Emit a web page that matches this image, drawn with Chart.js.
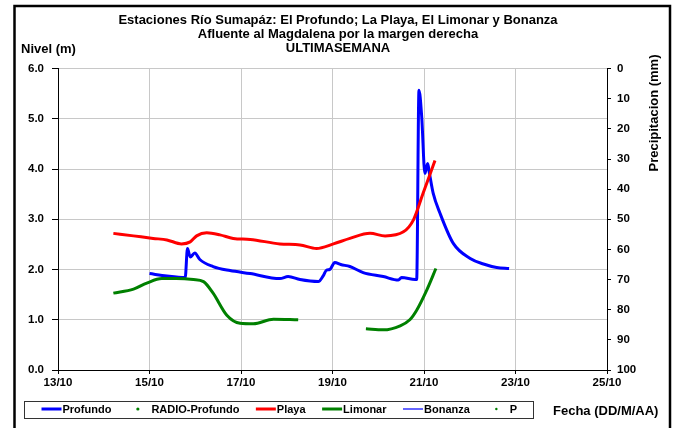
<!DOCTYPE html>
<html>
<head>
<meta charset="utf-8">
<script src="https://cdn.jsdelivr.net/npm/chart.js@4/dist/chart.umd.min.js"></script>
<style>
  html, body { margin: 0; padding: 0; background: #fff; }
  #wrap { width: 676px; height: 428px; }
</style>
</head>
<body>
<div id="wrap"><canvas id="grafico_nivel" width="676" height="428"></canvas></div>
<script>
// dias (dia de octubre, con fraccion) y niveles
const profundoDia = [15.00, 15.38, 15.78, 15.83, 15.89, 15.99, 16.10, 16.39, 16.76, 17.20, 17.85, 18.03, 18.29, 18.69, 18.80, 18.87, 18.94, 19.05, 19.18, 19.38, 19.67, 20.11, 20.44, 20.51, 20.81, 20.84, 20.89, 20.95, 21.02, 21.08, 21.12, 21.20, 21.35, 21.64, 22.01, 22.30, 22.59, 22.86];
const profundoNivel = [1.92, 1.87, 1.84, 2.42, 2.25, 2.33, 2.20, 2.06, 1.98, 1.92, 1.82, 1.86, 1.80, 1.76, 1.88, 1.99, 2.00, 2.14, 2.10, 2.06, 1.94, 1.86, 1.79, 1.84, 1.80, 1.80, 5.57, 5.04, 3.91, 4.11, 3.91, 3.52, 3.12, 2.52, 2.22, 2.11, 2.04, 2.02];

const playaDia = [14.21, 14.65, 15.08, 15.38, 15.70, 15.89, 16.03, 16.25, 16.54, 16.83, 17.20, 17.85, 18.29, 18.65, 19.02, 19.38, 19.82, 20.15, 20.55, 20.77, 20.98, 21.24];
const playaNivel = [2.72, 2.67, 2.62, 2.59, 2.51, 2.55, 2.67, 2.73, 2.69, 2.62, 2.60, 2.51, 2.49, 2.42, 2.51, 2.62, 2.72, 2.67, 2.75, 2.99, 3.52, 4.17];

const limonarDia = [14.21, 14.65, 14.94, 15.27, 15.59, 15.96, 16.18, 16.39, 16.69, 16.98, 17.27, 17.71, 18.25, 19.00, 19.73, 20.11, 20.48, 20.69, 20.84, 21.06, 21.26];
const limonarNivel = [1.53, 1.61, 1.73, 1.82, 1.82, 1.80, 1.76, 1.53, 1.09, 0.93, 0.92, 1.01, 1.00, null, 0.82, 0.80, 0.88, 1.00, 1.19, 1.59, 2.02];

// series sin datos en la semana
const radioProfundoNivel = [];
const bonanzaNivel = [];
const precipitacion = [];

const nivelTicks = [0, 1, 2, 3, 4, 5, 6];
const fechaTicks = [13, 15, 17, 19, 21, 23, 25];

const fuente = '"Liberation Sans", Arial, sans-serif';

function puntos(dias, valores) {
  return dias.map((d, i) => ({ x: d, y: valores[i] }));
}

const marcoPlugin = {
  id: 'marco',
  beforeDraw(chart) {
    const ctx = chart.ctx;
    ctx.save();
    ctx.fillStyle = '#fff';
    ctx.fillRect(0, 0, chart.width, chart.height);
    ctx.restore();
  },
  afterDraw(chart) {
    const ctx = chart.ctx;
    ctx.save();
    ctx.strokeStyle = '#000';
    ctx.lineWidth = 2.5;
    ctx.strokeRect(14.5, 6, 655.5, 440);

    ctx.fillStyle = '#000';
    ctx.textBaseline = 'middle';
    ctx.textAlign = 'left';
    ctx.font = 'bold 13px ' + fuente;
    ctx.fillText('Nivel (m)', 21, 49);
    ctx.fillText('Fecha (DD/M/AA)', 553, 411);

    ctx.save();
    ctx.translate(654, 113);
    ctx.rotate(-Math.PI / 2);
    ctx.textAlign = 'center';
    ctx.fillText('Precipitacion (mm)', 0, 0);
    ctx.restore();

    // leyenda en recuadro
    ctx.strokeStyle = '#333';
    ctx.lineWidth = 1;
    ctx.strokeRect(24.5, 401.5, 509, 17);
    ctx.font = 'bold 11px ' + fuente;
    let x = 41.5;
    const y = 410;
    chart.data.datasets.forEach(ds => {
      const punto = ds.showLine === false;
      if (punto) {
        ctx.fillStyle = ds.backgroundColor;
        ctx.beginPath();
        ctx.arc(x + 10, y - 1, ds.label === 'P' ? 1.2 : 1.6, 0, Math.PI * 2);
        ctx.fill();
        x += 23.5;
      } else {
        ctx.strokeStyle = ds.borderColor;
        ctx.lineWidth = ds.borderWidth;
        ctx.beginPath();
        ctx.moveTo(x, y - 1);
        ctx.lineTo(x + 20, y - 1);
        ctx.stroke();
        x += 21;
      }
      ctx.fillStyle = '#000';
      ctx.fillText(ds.label, x, y);
      x += ctx.measureText(ds.label).width + 16.5;
    });
    ctx.restore();
  }
};

document.addEventListener('DOMContentLoaded', function() {
  const ctx = document.getElementById('grafico_nivel').getContext('2d');

  Chart.defaults.font.family = fuente;
  Chart.defaults.font.weight = 'bold';
  Chart.defaults.color = '#000';

  const data = {
    datasets: [{
      label: 'Profundo',
      data: puntos(profundoDia, profundoNivel),
      borderColor: '#0000ff',
      backgroundColor: '#0000ff',
      borderWidth: 3,
      order: 3
    }, {
      label: 'RADIO-Profundo',
      data: radioProfundoNivel,
      showLine: false,
      borderColor: '#008000',
      backgroundColor: '#008000',
      pointRadius: 2,
      order: 6
    }, {
      label: 'Playa',
      data: puntos(playaDia, playaNivel),
      borderColor: '#ff0000',
      backgroundColor: '#ff0000',
      borderWidth: 3,
      order: 2
    }, {
      label: 'Limonar',
      data: puntos(limonarDia, limonarNivel),
      borderColor: '#008000',
      backgroundColor: '#008000',
      borderWidth: 3,
      order: 1
    }, {
      label: 'Bonanza',
      data: bonanzaNivel,
      borderColor: '#3333ff',
      backgroundColor: '#3333ff',
      borderWidth: 1.5,
      order: 4
    }, {
      label: 'P',
      data: precipitacion,
      yAxisID: 'y2',
      showLine: false,
      borderColor: '#008000',
      backgroundColor: '#008000',
      pointRadius: 1.5,
      order: 5
    }]
  };

  const config = {
    type: 'line',
    data,
    plugins: [marcoPlugin],
    options: {
      responsive: false,
      animation: false,
      spanGaps: false,
      layout: { padding: 0 },
      elements: {
        point: { radius: 0 },
        line: { cubicInterpolationMode: 'monotone' }
      },
      plugins: {
        legend: { display: false },
        tooltip: { enabled: false },
        title: {
          display: true,
          text: ['Estaciones Río Sumapáz: El Profundo; La Playa, El Limonar y Bonanza',
                 'Afluente al Magdalena por la margen derecha',
                 'ULTIMASEMANA'],
          color: '#000',
          font: { size: 13, weight: 'bold', lineHeight: 1.08 },
          padding: { top: 13, bottom: 13.5 }
        }
      },
      scales: {
        x: {
          type: 'linear',
          min: 13,
          max: 25,
          afterFit(scale) { scale.height = 58; },
          afterBuildTicks(scale) { scale.ticks = fechaTicks.map(v => ({ value: v })); },
          ticks: {
            callback: v => v + '/10',
            font: { size: 11.5, weight: 'bold' },
            padding: 2,
            maxRotation: 0
          },
          grid: { color: '#c8c8c8', tickColor: '#000', tickLength: 4 },
          border: { color: '#000', width: 1 }
        },
        y: {
          min: 0,
          max: 6,
          afterFit(scale) { scale.width = 58; },
          afterBuildTicks(scale) { scale.ticks = nivelTicks.map(v => ({ value: v })); },
          ticks: {
            callback: v => v.toFixed(1),
            font: { size: 11.5, weight: 'bold' },
            padding: 8
          },
          grid: { color: '#c8c8c8', tickColor: '#000', tickLength: 6 },
          border: { color: '#000', width: 1 }
        },
        y2: {
          position: 'right',
          reverse: true,
          min: 0,
          max: 100,
          afterFit(scale) { scale.width = 69; },
          ticks: {
            stepSize: 10,
            font: { size: 11.5, weight: 'bold' },
            padding: 6
          },
          grid: { drawOnChartArea: false, color: '#000', tickLength: 4 },
          border: { color: '#000', width: 1 }
        }
      }
    }
  };

  const grafico = new Chart(ctx, config);
});
</script>
</body>
</html>
